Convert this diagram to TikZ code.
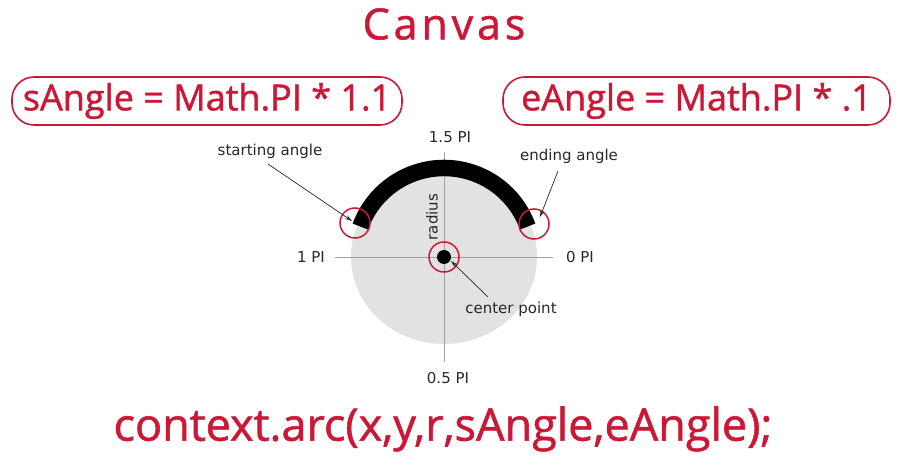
\documentclass[tikz,border=0pt]{standalone}
\usepackage{fontspec}
\setmainfont{DejaVu Sans}
\newfontfamily\osans[FakeBold=1.2]{Open Sans}
\newfontfamily\osanswide[LetterSpace=9,FakeBold=1.2]{Open Sans}
\usetikzlibrary{arrows.meta}
\definecolor{cred}{RGB}{204,24,54}
\definecolor{ctxt}{RGB}{40,40,40}
\definecolor{cgray}{RGB}{226,226,226}
\definecolor{caxis}{RGB}{160,160,160}
\tikzset{
  redbox/.style={draw=cred, line width=1.6pt, rounded corners=22pt, minimum height=48pt, inner sep=0pt, text=cred, font=\osans\fontsize{36}{40}\selectfont},
  axlabel/.style={text=ctxt, font=\fontsize{15}{16}\selectfont, inner sep=1pt},
  ring/.style={draw=cred, line width=1.5pt, circle, minimum size=30pt, inner sep=0pt},
  pointer/.style={draw=ctxt, line width=0.7pt, -{Stealth[length=7pt,width=4pt]}},
}
\begin{document}
\begin{tikzpicture}[x=1pt,y=-1pt]
\useasboundingbox[fill=white] (0,0) rectangle (900,465);
% title
\node (title) at (444,24) {\textcolor{cred}{\osanswide\fontsize{43}{46}\selectfont Canvas}};
% boxes
\node[redbox, minimum width=390pt] (sbox) at (207,101) {sAngle = Math.PI * 1.1};
\node[redbox, minimum width=387pt] (ebox) at (696.5,101) {eAngle = Math.PI * .1};
% circle
\coordinate (c) at (444,257);
\fill[cgray] (c) ellipse[x radius=93, y radius=87];
\coordinate (hl) at (335,257);
\coordinate (hr) at (553,257);
\coordinate (vt) at (444,152);
\coordinate (vb) at (444,362);
\draw[caxis, line width=0.6pt] (hl) -- (hr);
\draw[caxis, line width=0.6pt] (vt) -- (vb);
% arc
\draw[black, line width=16.5pt] (c) ++(200:89) arc[start angle=200, end angle=340, radius=89];
\fill[black] (c) circle[radius=7];
% labels
\node[axlabel] (l15) at (450,137) {1.5 PI};
\node[axlabel] (l05) at (448,378) {0.5 PI};
\node[axlabel] (l1) at (311,257) {1 PI};
\node[axlabel] (l0) at (580,257) {0 PI};
\node[axlabel, rotate=90] (rad) at (432,217) {radius};
\node[axlabel] (cp) at (511,309) {center point};
\node[axlabel] (sa) at (270,151) {starting angle};
\node[axlabel] (ea) at (569,156) {ending angle};
% rings
\node[ring] (rs) at (355,223) {};
\node[ring] (re) at (534,224) {};
\node[ring] (rc) at (444,257) {};
% pointers
\coordinate (sa1) at (268,164);
\coordinate (sa2) at (352,221);
\coordinate (ea1) at (558,171);
\coordinate (ea2) at (540,217);
\coordinate (cp1) at (488,297);
\coordinate (cp2) at (451,261);
\draw[pointer] (sa1) -- (sa2);
\draw[pointer] (ea1) -- (ea2);
\draw[pointer] (cp1) -- (cp2);
% code
\node (code) at (443,429) {\textcolor{cred}{\osans\fontsize{45}{48}\selectfont context.arc(x,y,r,sAngle,eAngle);}};
\end{tikzpicture}
\end{document}
